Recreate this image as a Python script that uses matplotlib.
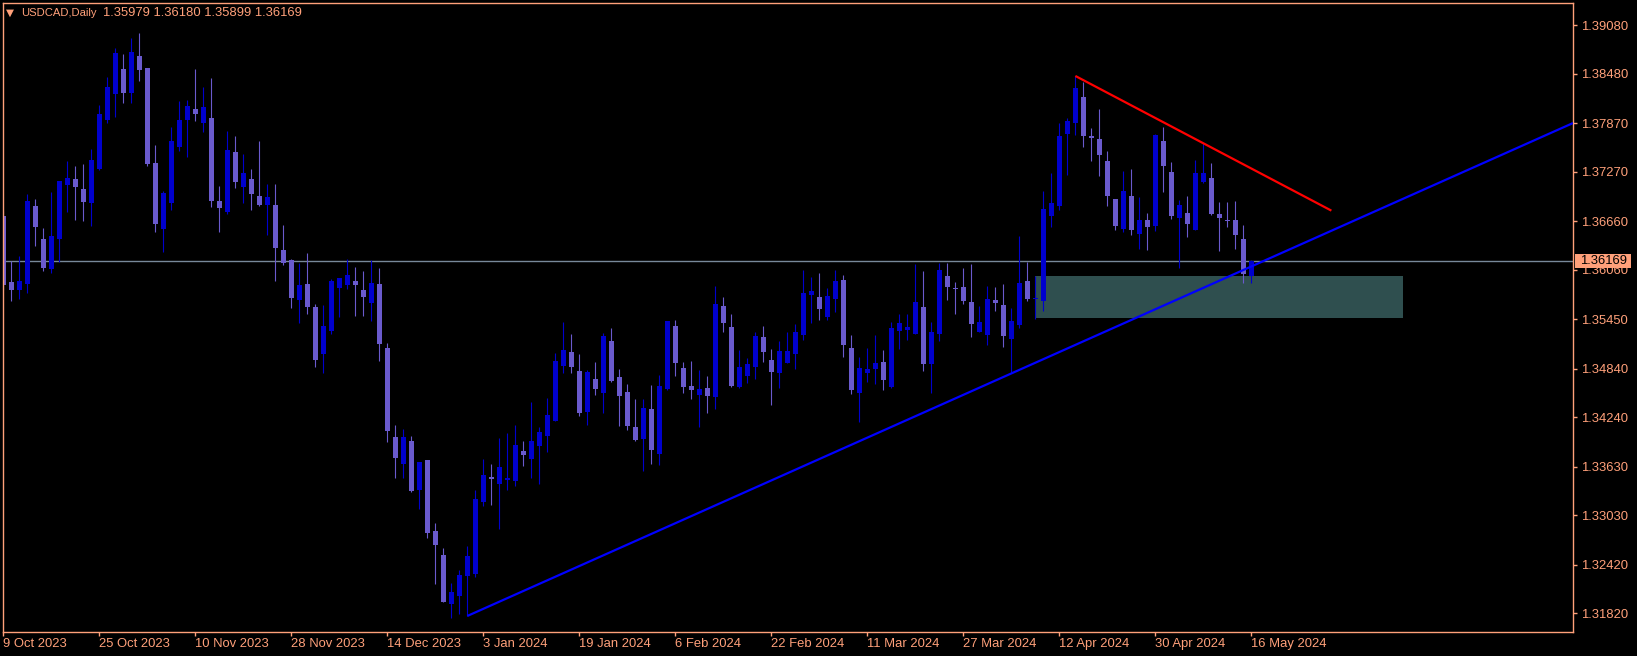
### USDCAD denni svicky (MT4 styl) s trendovymi carami a zonou

import matplotlib
matplotlib.use("Agg")
import matplotlib.pyplot as plt
import matplotlib.transforms as mtransforms
import numpy as np
import pandas as pd
from matplotlib import font_manager
from matplotlib.patches import Rectangle

# data svicek, od 9 Oct 2023 do 16 May 2024
open_ = [1.36726, 1.35911, 1.35812, 1.35890, 1.36849, 1.36442, 1.36071, 1.36442, 1.37109, 1.37183,
         1.37059, 1.36886, 1.37306, 1.37911, 1.38232, 1.38541, 1.38245, 1.38702, 1.38553, 1.37380,
         1.36565, 1.36886, 1.37578, 1.37911, 1.38047, 1.37874, 1.37936, 1.36911, 1.36775, 1.37516,
         1.37084, 1.37183, 1.36973, 1.36862, 1.36862, 1.36306, 1.36183, 1.35689, 1.35886, 1.35602,
         1.35026, 1.35306, 1.35837, 1.35874, 1.35923, 1.35812, 1.35647, 1.35886, 1.35096, 1.33997,
         1.33668, 1.33948, 1.33342, 1.33713, 1.32836, 1.32540, 1.31935, 1.32034, 1.32281, 1.32305,
         1.33194, 1.33503, 1.33417, 1.33466, 1.33454, 1.33824, 1.33725, 1.33886, 1.34009, 1.34194,
         1.34874, 1.35047, 1.34812, 1.34306, 1.34713, 1.34540, 1.35182, 1.34738, 1.34553, 1.34120,
         1.33972, 1.34343, 1.33787, 1.34590, 1.35368, 1.34849, 1.34627, 1.34516, 1.34602, 1.34491,
         1.35615, 1.35355, 1.34614, 1.34750, 1.34861, 1.35232, 1.34948, 1.34787, 1.34911, 1.35022,
         1.35256, 1.35750, 1.35726, 1.35479, 1.35701, 1.35936, 1.35096, 1.34540, 1.34787, 1.34837,
         1.34923, 1.34614, 1.35306, 1.35318, 1.35269, 1.35602, 1.34898, 1.35269, 1.35985, 1.35837,
         1.35849, 1.35664, 1.35294, 1.35256, 1.35689, 1.35627, 1.35207, 1.35380, 1.35923, 1.35705,
         1.35676, 1.36726, 1.36849, 1.37738, 1.37874, 1.38195, 1.37714, 1.37677, 1.37405, 1.36936,
         1.36565, 1.36973, 1.36504, 1.36676, 1.36602, 1.37652, 1.37269, 1.36701, 1.36763, 1.36553,
         1.37146, 1.37195, 1.36751, 1.36676, 1.36676, 1.36442, 1.35979]
high = [1.36792, 1.36166, 1.36232, 1.36997, 1.36936, 1.36578, 1.37022, 1.37158, 1.37405, 1.37343,
        1.37368, 1.37553, 1.38096, 1.38442, 1.38800, 1.38726, 1.38924, 1.38986, 1.38553, 1.37603,
        1.37035, 1.37825, 1.38146, 1.38158, 1.38541, 1.38319, 1.38430, 1.37096, 1.37775, 1.37714,
        1.37491, 1.37306, 1.37652, 1.37121, 1.37121, 1.36615, 1.36195, 1.36145, 1.36269, 1.35639,
        1.35627, 1.35948, 1.35960, 1.36195, 1.36096, 1.36047, 1.36183, 1.36084, 1.35158, 1.34145,
        1.34096, 1.34009, 1.33688, 1.33713, 1.32935, 1.32626, 1.32194, 1.32355, 1.32651, 1.33342,
        1.33725, 1.33664, 1.33985, 1.34046, 1.34145, 1.33948, 1.34429, 1.34120, 1.34478, 1.35034,
        1.35417, 1.35269, 1.35022, 1.34824, 1.34923, 1.35281, 1.35343, 1.34837, 1.34651, 1.34466,
        1.34466, 1.34639, 1.34762, 1.35429, 1.35442, 1.34923, 1.34935, 1.34824, 1.34750, 1.35861,
        1.35726, 1.35516, 1.35071, 1.34972, 1.35294, 1.35368, 1.35084, 1.35182, 1.35294, 1.35392,
        1.36059, 1.35973, 1.36022, 1.35837, 1.36059, 1.35997, 1.35256, 1.34985, 1.35096, 1.35256,
        1.35071, 1.35417, 1.35516, 1.35516, 1.36133, 1.36047, 1.35417, 1.36145, 1.36145, 1.35911,
        1.36084, 1.36133, 1.35615, 1.35861, 1.35849, 1.35886, 1.35590, 1.36479, 1.36158, 1.35985,
        1.37035, 1.37257, 1.37874, 1.37936, 1.38455, 1.38380, 1.37812, 1.38047, 1.37528, 1.36936,
        1.37281, 1.37306, 1.36960, 1.36763, 1.37738, 1.37825, 1.37393, 1.36923, 1.36973, 1.37417,
        1.37627, 1.37380, 1.36899, 1.36899, 1.36911, 1.36615, 1.36180]
low = [1.35812, 1.35676, 1.35701, 1.35775, 1.36355, 1.36047, 1.36022, 1.36158, 1.36775, 1.36676,
       1.36664, 1.36602, 1.37294, 1.37874, 1.37948, 1.38121, 1.38121, 1.38393, 1.37343, 1.36528,
       1.36281, 1.36800, 1.37528, 1.37454, 1.37899, 1.37763, 1.36837, 1.36528, 1.36751, 1.37072,
       1.36886, 1.36800, 1.36849, 1.36491, 1.35923, 1.36121, 1.35590, 1.35405, 1.35516, 1.34861,
       1.34787, 1.35269, 1.35483, 1.35824, 1.35495, 1.35495, 1.35429, 1.34939, 1.33935, 1.33495,
       1.33495, 1.33318, 1.33108, 1.32750, 1.32182, 1.31959, 1.31762, 1.31811, 1.31787, 1.32268,
       1.33145, 1.33157, 1.32861, 1.33342, 1.33392, 1.33639, 1.33491, 1.33417, 1.33812, 1.34194,
       1.34787, 1.34787, 1.34256, 1.34145, 1.34516, 1.34293, 1.34676, 1.34133, 1.34083, 1.33948,
       1.33577, 1.33664, 1.33651, 1.34577, 1.34750, 1.34540, 1.34466, 1.34120, 1.34293, 1.34343,
       1.35294, 1.34610, 1.34602, 1.34664, 1.34713, 1.34923, 1.34392, 1.34602, 1.34911, 1.34837,
       1.35195, 1.35405, 1.35442, 1.35442, 1.35540, 1.34985, 1.34528, 1.34182, 1.34676, 1.34651,
       1.34577, 1.34602, 1.35084, 1.35195, 1.35269, 1.34812, 1.34540, 1.35182, 1.35689, 1.35516,
       1.35639, 1.35232, 1.35294, 1.35133, 1.35553, 1.35108, 1.34800, 1.35343, 1.35676, 1.35454,
       1.35553, 1.36590, 1.36800, 1.37232, 1.37726, 1.37578, 1.37405, 1.37220, 1.36849, 1.36553,
       1.36528, 1.36491, 1.36318, 1.36306, 1.36541, 1.37022, 1.36689, 1.36084, 1.36467, 1.36553,
       1.37133, 1.36738, 1.36294, 1.36590, 1.36318, 1.35899, 1.35899]
close = [1.35874, 1.35812, 1.35923, 1.36911, 1.36590, 1.36084, 1.36479, 1.37158, 1.37195, 1.37084,
         1.36899, 1.37417, 1.37985, 1.38319, 1.38739, 1.38245, 1.38751, 1.38529, 1.37368, 1.36627,
         1.37010, 1.37652, 1.37911, 1.38084, 1.37985, 1.38072, 1.36911, 1.36825, 1.37541, 1.37146,
         1.37257, 1.36997, 1.36862, 1.36960, 1.36331, 1.36145, 1.35713, 1.35874, 1.35606, 1.34948,
         1.35368, 1.35923, 1.35960, 1.35997, 1.35874, 1.35726, 1.35899, 1.35149, 1.34075, 1.33742,
         1.33997, 1.33330, 1.33688, 1.32812, 1.32663, 1.31959, 1.32083, 1.32293, 1.32528, 1.33231,
         1.33528, 1.33478, 1.33627, 1.33491, 1.33898, 1.33775, 1.33948, 1.34059, 1.34269, 1.34935,
         1.35071, 1.34861, 1.34293, 1.34800, 1.34590, 1.35244, 1.34688, 1.34503, 1.34133, 1.33960,
         1.34355, 1.33836, 1.34627, 1.35429, 1.34911, 1.34614, 1.34577, 1.34590, 1.34503, 1.35639,
         1.35405, 1.34627, 1.34861, 1.34898, 1.35244, 1.35047, 1.34800, 1.35059, 1.35059, 1.35294,
         1.35775, 1.35800, 1.35577, 1.35738, 1.35923, 1.35133, 1.34577, 1.34849, 1.34837, 1.34911,
         1.34701, 1.35343, 1.35405, 1.35355, 1.35664, 1.34898, 1.35294, 1.36059, 1.35849, 1.35824,
         1.35676, 1.35392, 1.35417, 1.35701, 1.35652, 1.35244, 1.35429, 1.35899, 1.35701, 1.35713,
         1.36812, 1.36886, 1.37714, 1.37899, 1.38306, 1.37714, 1.37689, 1.37479, 1.36973, 1.36602,
         1.37035, 1.36553, 1.36676, 1.36590, 1.37726, 1.37343, 1.36726, 1.36862, 1.36627, 1.37257,
         1.37257, 1.36751, 1.36701, 1.36668, 1.36491, 1.36010, 1.36169]

svatky = ["2023-12-25", "2024-01-01"]
price_ticks = [1.31820, 1.32420, 1.33030, 1.33630, 1.34240, 1.34840, 1.35450,
               1.36060, 1.36660, 1.37270, 1.37870, 1.38480, 1.39080]
bid = 1.36169

# trendove cary (index svicky, cena) a zona
up_line_x = [58, 156]
up_line_y = [1.31787, 1.36103]
down_line_x = [134, 166]
down_line_y = [1.38455, 1.36792]
zone_x = [129, 175]
zone_y = [1.35470, 1.35985]

fg = "#FFA07A"
bull = "#0000CD"
bear = "#6A5ACD"

names = {f.name for f in font_manager.fontManager.ttflist}
font = "Liberation Sans" if "Liberation Sans" in names else "DejaVu Sans"
fs = 9.4

dates = pd.bdate_range("2023-10-09", "2024-05-16")
dates = dates[~dates.isin(pd.to_datetime(svatky))]
x = np.arange(len(close))
o = np.array(open_)
c = np.array(close)
colors = [bull if cc >= oo else bear for oo, cc in zip(o, c)]

W, H = 1637, 656
fig = plt.figure(figsize=(W / 100, H / 100), dpi=100, facecolor="black")
ax = fig.add_axes([2.5 / W, (H - 632) / H, (1573 - 2.5) / W, (632 - 2.5) / H])
ax.set_facecolor("black")
ax.set_xlim(-0.1, 196.2)
ax.set_ylim(1.31589, 1.39362)

# zona
ax.add_patch(Rectangle((zone_x[0], zone_y[0]), zone_x[1] - zone_x[0], zone_y[1] - zone_y[0],
                       facecolor="#2F4F4F", edgecolor="none", zorder=1))
# bid cara
ax.axhline(bid, color="#778899", lw=1.0, zorder=1.5)

# svicky
ax.vlines(x, low, high, colors=colors, lw=0.8, zorder=2)
body_h = np.maximum(np.abs(c - o), 0.00012)
ax.bar(x, body_h, bottom=np.minimum(o, c), width=0.6, color=colors, linewidth=0, zorder=2.5)

# trendove cary
slope = (up_line_y[1] - up_line_y[0]) / (up_line_x[1] - up_line_x[0])
x_end = ax.get_xlim()[1]
ax.plot([up_line_x[0], x_end], [up_line_y[0], up_line_y[0] + slope * (x_end - up_line_x[0])],
        color="#0000FF", lw=1.6, zorder=3, solid_capstyle="butt")
ax.plot(down_line_x, down_line_y, color="#FF0000", lw=1.6, zorder=3, solid_capstyle="butt")

# osy
for s in ax.spines.values():
    s.set_color(fg)
    s.set_linewidth(1.0)
ax.yaxis.tick_right()
ax.set_yticks(price_ticks)
ax.set_yticklabels([f"{v:.5f}" for v in price_ticks])
tick_idx = list(range(0, len(dates), 12))
ax.set_xticks(tick_idx)
ax.set_xticklabels([f"{dates[i].day} {dates[i].strftime('%b %Y')}" for i in tick_idx], ha="left")
ax.tick_params(axis="both", colors=fg, labelcolor=fg, length=3, width=1.0, direction="out",
               labelsize=fs, pad=2.5)
ax.tick_params(axis="x", pad=1.5)
for t in ax.get_xticklabels() + ax.get_yticklabels():
    t.set_fontfamily(font)

# cenovy stitek vpravo
px_per_price = ax.bbox.height / (ax.get_ylim()[1] - ax.get_ylim()[0])
box_h = 14 / px_per_price
trans = mtransforms.blended_transform_factory(ax.transAxes, ax.transData)
ax.add_patch(Rectangle((1.0012, bid - box_h / 2), 56 / ax.bbox.width, box_h, transform=trans,
                       facecolor=fg, edgecolor="none", clip_on=False, zorder=6))
ax.text(1.0045, bid, f"{bid:.5f}", transform=trans, color="black", fontsize=fs, family=font,
        va="center", ha="left", zorder=7, clip_on=False)

# hlavicka
fig.text(5.5 / W, 1 - 12.3 / H, "\u25BC", color=fg, fontsize=7.5, family="DejaVu Sans", va="center", ha="left")
fig.text(21 / W, 1 - 12.7 / H, "USDCAD,Daily", color=fg, fontsize=8.1, family=font, va="center", ha="left")
fig.text(103 / W, 1 - 12.7 / H, f"{open_[-1]:.5f} {high[-1]:.5f} {low[-1]:.5f} {close[-1]:.5f}",
         color=fg, fontsize=fs, family=font, va="center", ha="left")

fig.savefig("out.png", dpi=100, facecolor="black")
plt.close("all")
